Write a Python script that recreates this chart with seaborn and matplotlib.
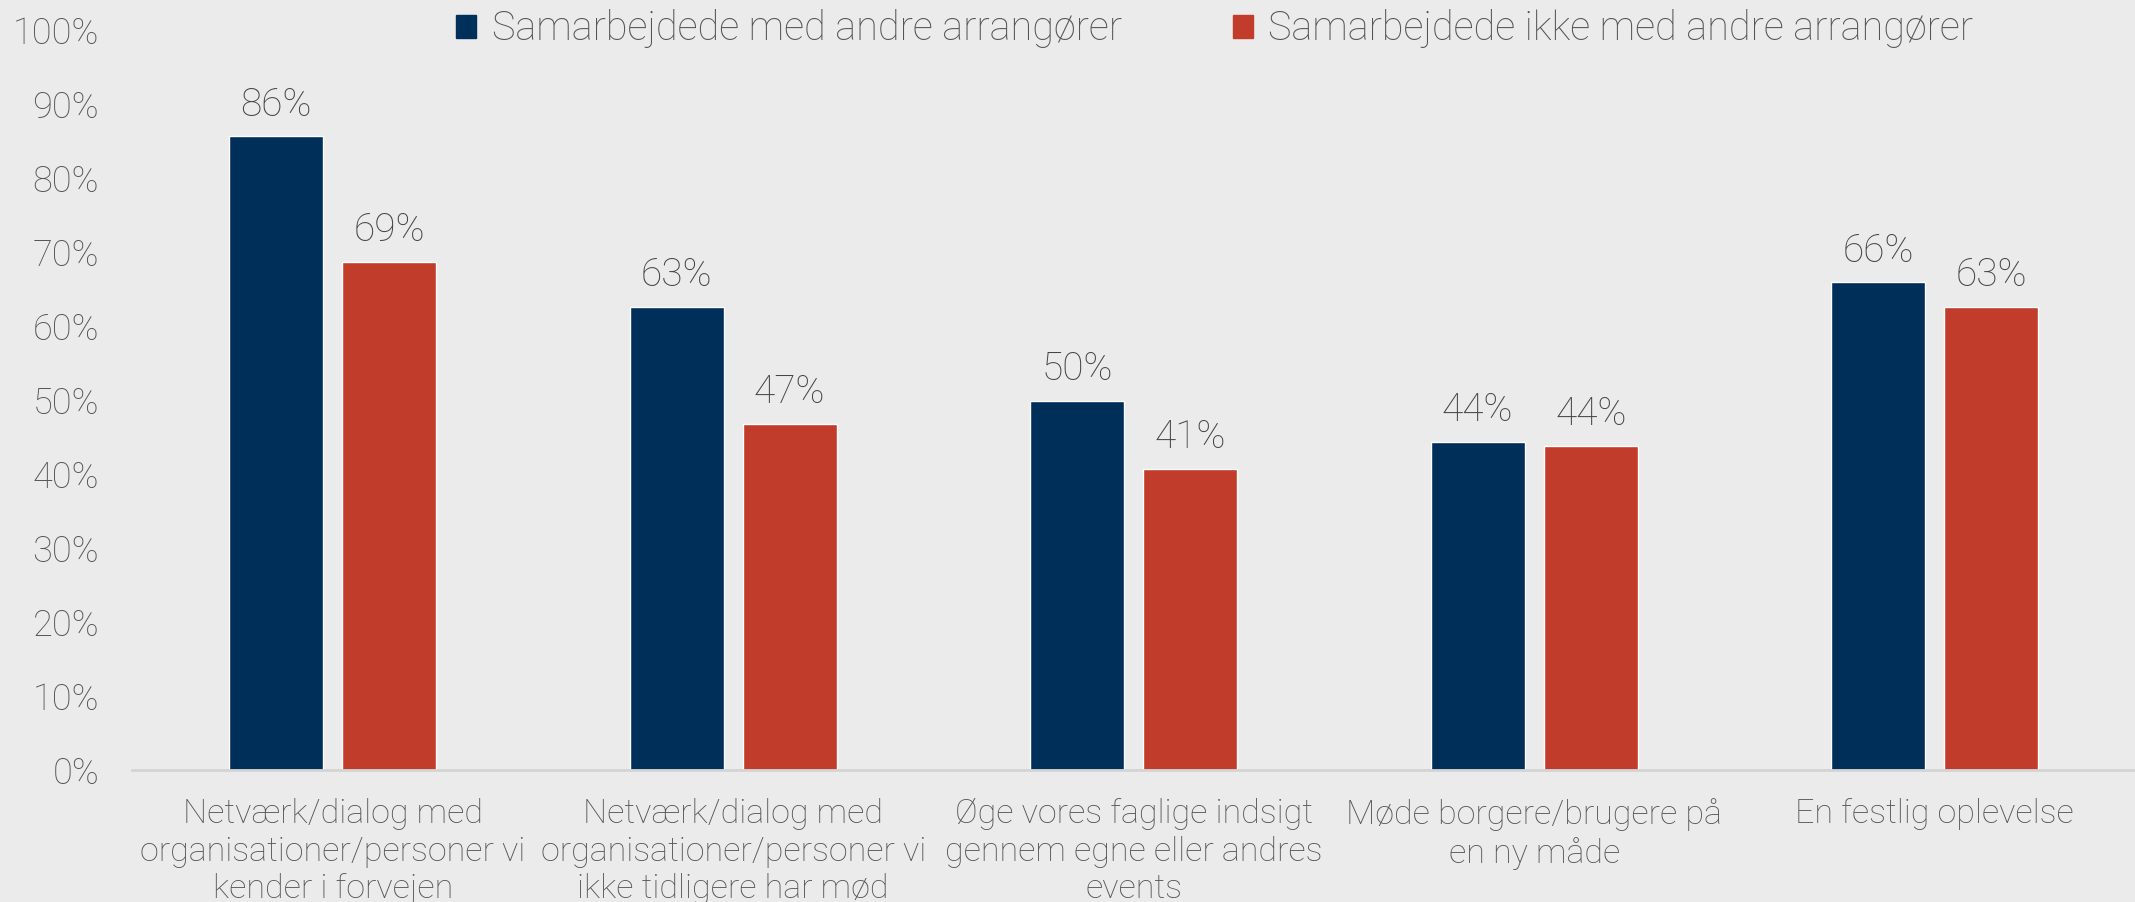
import seaborn as sns
import pandas as pd
import matplotlib.pyplot as plt
from matplotlib.patches import Patch

categories = [
    "Netværk/dialog med\norganisationer/personer vi\nkender i forvejen",
    "Netværk/dialog med\norganisationer/personer vi\nikke tidligere har mød",
    "Øge vores faglige indsigt\ngennem egne eller andres\nevents",
    "Møde borgere/brugere på\nen ny måde",
    "En festlig oplevelse",
]
series = ["Samarbejdede med andre arrangører", "Samarbejdede ikke med andre arrangører"]
with_others = [85.6, 62.6, 49.9, 44.4, 65.9]
without_others = [68.7, 46.8, 40.7, 43.8, 62.6]

bg = "#ebebeb"
navy = "#00305a"
red = "#c13c2a"
grey = "#555555"

sns.set_style("white")
plt.rcParams["font.family"] = ["Roboto", "DejaVu Sans"]
plt.rcParams["font.weight"] = "light"
plt.rcParams["text.color"] = grey

data = pd.DataFrame({
    "cat": categories * 2,
    "val": with_others + without_others,
    "grp": [series[0]] * 5 + [series[1]] * 5,
})

fig = plt.figure(figsize=(21.35, 9.02), dpi=100, facecolor=bg)
ax = fig.add_axes([0.062, 0.146, 0.938, 0.821])
ax.set_facecolor(bg)

sns.barplot(data=data, x="cat", y="val", hue="grp", palette=[navy, red],
            width=0.565, gap=0.17, ax=ax, legend=False, saturation=1)

for c in ax.containers:
    ax.bar_label(c, labels=[f"{v.get_height():.0f}%" for v in c], padding=9,
                 fontsize=28, color="#454545", fontweight="light")

ax.set_ylim(0, 100)
ax.set_xlim(-0.5, 4.5)
ax.set_yticks(range(0, 101, 10))
ax.set_yticklabels([f"{t}%" for t in range(0, 101, 10)])
ax.tick_params(axis="y", labelsize=26, labelcolor=grey, length=0, pad=24)
ax.tick_params(axis="x", labelsize=24.5, labelcolor=grey, length=0, pad=20)
for t in ax.get_xticklabels():
    t.set_fontweight("light")
    t.set_linespacing(1.22)
for t in ax.get_yticklabels():
    t.set_fontweight("light")
ax.set_xlabel("")
ax.set_ylabel("")
for s in ["top", "right", "left"]:
    ax.spines[s].set_visible(False)
ax.spines["bottom"].set_color("#d4d4d4")
ax.spines["bottom"].set_linewidth(2)

handles = [Patch(color=navy), Patch(color=red)]
leg = fig.legend(handles, series, loc="center", bbox_to_anchor=(0.569, 0.968), ncol=2,
                 frameon=False, fontsize=28.5, handlelength=0.5, handleheight=0.5,
                 handletextpad=0.4, columnspacing=2.8, labelcolor=grey)
for t in leg.get_texts():
    t.set_fontweight("light")

fig.savefig("out.png", facecolor=bg)
